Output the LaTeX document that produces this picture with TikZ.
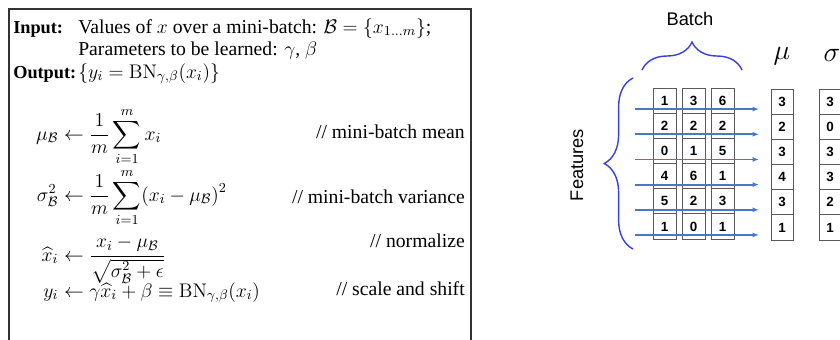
\documentclass[tikz,border=0pt]{standalone}
\usepackage{fix-cm}
\usepackage{amsmath,amssymb}
\usepackage[no-math]{fontspec}
\setmainfont{Liberation Serif}
\setsansfont{Liberation Sans}
\usepackage{tikz}
\usetikzlibrary{arrows.meta,positioning,calc,decorations.pathreplacing}
\definecolor{bnframe}{HTML}{333333}
\definecolor{bnbrace}{HTML}{3A3FE0}
\definecolor{bnarrow}{HTML}{4A78C8}
\definecolor{bncell}{HTML}{5A5A5A}

\tikzset{
  algtext/.style={inner sep=0pt, font=\fontsize{14}{17}\selectfont},
  alglabel/.style={inner sep=0pt, font=\fontsize{13}{16}\selectfont\bfseries},
  cellbox/.style={draw=bncell, line width=0.7pt, fill=white,
    minimum width=0.575cm, minimum height=0.629cm, inner sep=0pt,
    font=\sffamily\bfseries\fontsize{9.5}{10}\selectfont},
  rowarrow/.style={-{Latex[length=4.5pt,width=3.5pt]}, line width=1.3pt, color=bnarrow},
  curlybrace/.style={decorate, decoration={brace, amplitude=#1},
    draw=bnbrace, line width=1pt},
  sidelabel/.style={inner sep=0pt, font=\sffamily\fontsize{13}{15}\selectfont}
}

\begin{document}
\begin{tikzpicture}[x=0.25cm,y=-0.25cm]
\useasboundingbox (0,0) rectangle (84,33.9);

% algorithm frame (runs off the bottom)
\draw[draw=bnframe, line width=1.2pt] (0.9,36) -- (0.9,0.9) -- (47.1,0.9) -- (47.1,36);

\node[alglabel, anchor=base west] (inputlbl) at (1.3,3.3) {Input:};
\node[algtext, anchor=base west] (inputtxt) at (7.8,3.3)
  {Values of $x$ over a mini-batch: $\mathcal{B}=\{x_{1\ldots m}\}$;};
\node[algtext, anchor=base west] (paramtxt) at (7.8,5.5)
  {Parameters to be learned: $\gamma$, $\beta$};
\node[alglabel, anchor=base west] (outputlbl) at (1.3,7.8) {Output:};
\node[algtext, anchor=base west] (outputtxt) at (7.8,7.8)
  {$\{y_i=\mathrm{BN}_{\gamma,\beta}(x_i)\}$};

% the four update steps, aligned on the arrows
\node[algtext, anchor=base east] (mulhs) at (5.85,14.0) {$\mu_{\mathcal{B}}$};
\node[algtext, anchor=base west] (murhs) at (5.85,14.0)
  {$\displaystyle{}\leftarrow\frac{1}{m}\sum_{i=1}^{m}x_i$};
\node[algtext, anchor=base east] (varlhs) at (5.85,20.1) {$\sigma_{\mathcal{B}}^2$};
\node[algtext, anchor=base west] (varrhs) at (5.85,20.1)
  {$\displaystyle{}\leftarrow\frac{1}{m}\sum_{i=1}^{m}(x_i-\mu_{\mathcal{B}})^2$};
\node[algtext, anchor=base east] (normlhs) at (5.85,26.1) {$\widehat{x}_i$};
\node[algtext, anchor=base west] (normrhs) at (5.85,26.1)
  {$\displaystyle{}\leftarrow\frac{x_i-\mu_{\mathcal{B}}}{\sqrt{\sigma_{\mathcal{B}}^2+\epsilon}}$};
\node[algtext, anchor=base east] (outlhs) at (5.85,29.7) {$y_i$};
\node[algtext, anchor=base west] (outrhs) at (5.85,29.7)
  {$\displaystyle{}\leftarrow\gamma\widehat{x}_i+\beta\equiv\mathrm{BN}_{\gamma,\beta}(x_i)$};

\node[algtext, anchor=base east] (meancmt) at (46.5,13.8) {// mini-batch mean};
\node[algtext, anchor=base east] (varcmt) at (46.5,20.3) {// mini-batch variance};
\node[algtext, anchor=base east] (normcmt) at (46.5,24.7) {// normalize};
\node[algtext, anchor=base east] (shiftcmt) at (46.5,29.5) {// scale and shift};

% batch of feature vectors
\foreach \vals [count=\c] in {{1,2,0,4,5,1},{3,2,1,6,2,0},{6,2,5,1,3,1}} {
  \foreach \v [count=\r] in \vals {
    \node[cellbox] (x-\r-\c) at ({63.55+2.9*\c},{8.8+2.517*(\r-0.5)}) {\v};
  }
}
\foreach \v [count=\r] in {3,2,3,4,3,1}
  \node[cellbox, minimum width=0.55cm] (mu-\r) at (78.2,{8.9+2.517*(\r-0.5)}) {\v};
\foreach \v [count=\r] in {3,0,3,3,2,1}
  \node[cellbox, minimum width=0.55cm] (sd-\r) at (83.0,{8.9+2.517*(\r-0.5)}) {\v};

\node[font=\fontsize{20}{22}\selectfont] (mulabel) at (78.2,5.6) {$\mu$};
\node[font=\fontsize{20}{22}\selectfont] (sdlabel) at (83.2,5.5) {$\sigma$};

% one arrow per feature row
\foreach \r in {1,...,6} {
  \coordinate (a-\r) at (63.5,{8.8+2.517*(\r-0.5)+0.85});
  \coordinate (b-\r) at (75.9,{8.8+2.517*(\r-0.5)+0.85});
  \draw[rowarrow] (a-\r) -- (b-\r);
}

\draw[curlybrace=0.7cm] (64.2,7.0) -- (74.2,7.0);
\node[sidelabel] (batch) at (69.0,1.9) {Batch};
\draw[curlybrace=0.72cm] (63.3,24.9) -- (63.3,7.8);
\node[sidelabel, rotate=90] (features) at (57.7,16.5) {Features};
\end{tikzpicture}
\end{document}
